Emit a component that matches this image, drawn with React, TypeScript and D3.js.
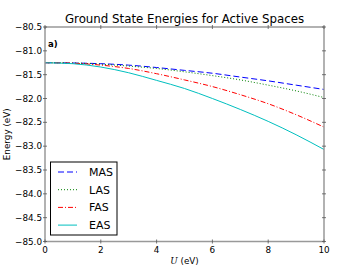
import React from "react"
import * as d3 from "d3"

const uValues = [0, 1, 2, 3, 4, 5, 6, 7, 8, 9, 10]
const masE = [-81.25, -81.255, -81.27, -81.3, -81.35, -81.41, -81.47, -81.55, -81.63, -81.72, -81.81]
const lasE = [-81.25, -81.255, -81.28, -81.32, -81.37, -81.44, -81.52, -81.61, -81.72, -81.84, -81.98]
const fasE = [-81.25, -81.26, -81.3, -81.37, -81.48, -81.61, -81.75, -81.92, -82.11, -82.34, -82.6]
const easE = [-81.25, -81.27, -81.34, -81.46, -81.62, -81.79, -82.0, -82.23, -82.48, -82.76, -83.07]

const xTicks = [0, 2, 4, 6, 8, 10]
const yTicks = [-80.5, -81, -81.5, -82, -82.5, -83, -83.5, -84, -84.5, -85]

const series = [
  { name: "MAS", values: masE, color: "#0000ff", dash: "6,3" },
  { name: "LAS", values: lasE, color: "#008000", dash: "1,2" },
  { name: "FAS", values: fasE, color: "#ff0000", dash: "5,2,1,2" },
  { name: "EAS", values: easE, color: "#00bfbf", dash: "" },
]

export default function App() {
  const W = 360
  const H = 269
  const left = 45
  const right = 324
  const top = 27
  const bottom = 241.5

  const x = d3.scaleLinear().domain([0, 10]).range([left, right])
  const y = d3.scaleLinear().domain([-85, -80.5]).range([bottom, top])
  const line = d3
    .line<number>()
    .x((_, i) => x(uValues[i]))
    .y((d) => y(d))
    .curve(d3.curveMonotoneX)

  const font = "DejaVu Sans, sans-serif"
  const fmt = (v: number) => v.toFixed(1).replace("-", "\u2212")

  return (
    <div style={{ position: "absolute", left: 0, top: 0 }}>
      <svg width={W} height={H} style={{ display: "block", background: "#fff" }} fontFamily={font}>
        <text x={(left + right) / 2} y={23} textAnchor="middle" fontSize={11.8}>
          Ground State Energies for Active Spaces
        </text>

        {series.map((s) => (
          <path
            key={s.name}
            d={line(s.values) || ""}
            fill="none"
            stroke={s.color}
            strokeWidth={1}
            strokeDasharray={s.dash || undefined}
          />
        ))}

        {/* spines */}
        <rect x={left} y={top} width={right - left} height={bottom - top} fill="none" stroke="#999" strokeWidth={1.5} />

        {xTicks.map((t) => (
          <g key={"x" + t}>
            <line x1={x(t)} x2={x(t)} y1={bottom - 2} y2={bottom + 2} stroke="#555" strokeWidth={0.8} />
            <line x1={x(t)} x2={x(t)} y1={top - 2} y2={top + 2} stroke="#555" strokeWidth={0.8} />
            <text x={x(t)} y={bottom + 11} textAnchor="middle" fontSize={8.8}>
              {t}
            </text>
          </g>
        ))}

        {yTicks.map((t) => (
          <g key={"y" + t}>
            <line x1={left - 2} x2={left + 2} y1={y(t)} y2={y(t)} stroke="#555" strokeWidth={0.8} />
            <line x1={right - 2} x2={right + 2} y1={y(t)} y2={y(t)} stroke="#555" strokeWidth={0.8} />
            <text x={left - 3} y={y(t) + 3} textAnchor="end" fontSize={8.8}>
              {fmt(t)}
            </text>
          </g>
        ))}

        <text x={48} y={47} fontSize={8.5} fontWeight="bold">
          a)
        </text>

        <text transform={`translate(10,${(top + bottom) / 2}) rotate(-90)`} textAnchor="middle" fontSize={8.8}>
          Energy (eV)
        </text>
        <text x={(left + right) / 2} y={264} textAnchor="middle" fontSize={8.8}>
          <tspan fontStyle="italic" fontFamily="DejaVu Serif, serif">U</tspan> (eV)
        </text>

        {/* legend */}
        <rect x={50.5} y={162} width={66.5} height={73} fill="#fff" stroke="#000" strokeWidth={1} />
        {series.map((s, i) => {
          const ly = 172 + i * 17.7
          return (
            <g key={"l" + s.name}>
              <line x1={58} x2={77} y1={ly} y2={ly} stroke={s.color} strokeWidth={1} strokeDasharray={s.dash || undefined} />
              <text x={89} y={ly + 4} fontSize={11}>
                {s.name}
              </text>
            </g>
          )
        })}
      </svg>
    </div>
  )
}
